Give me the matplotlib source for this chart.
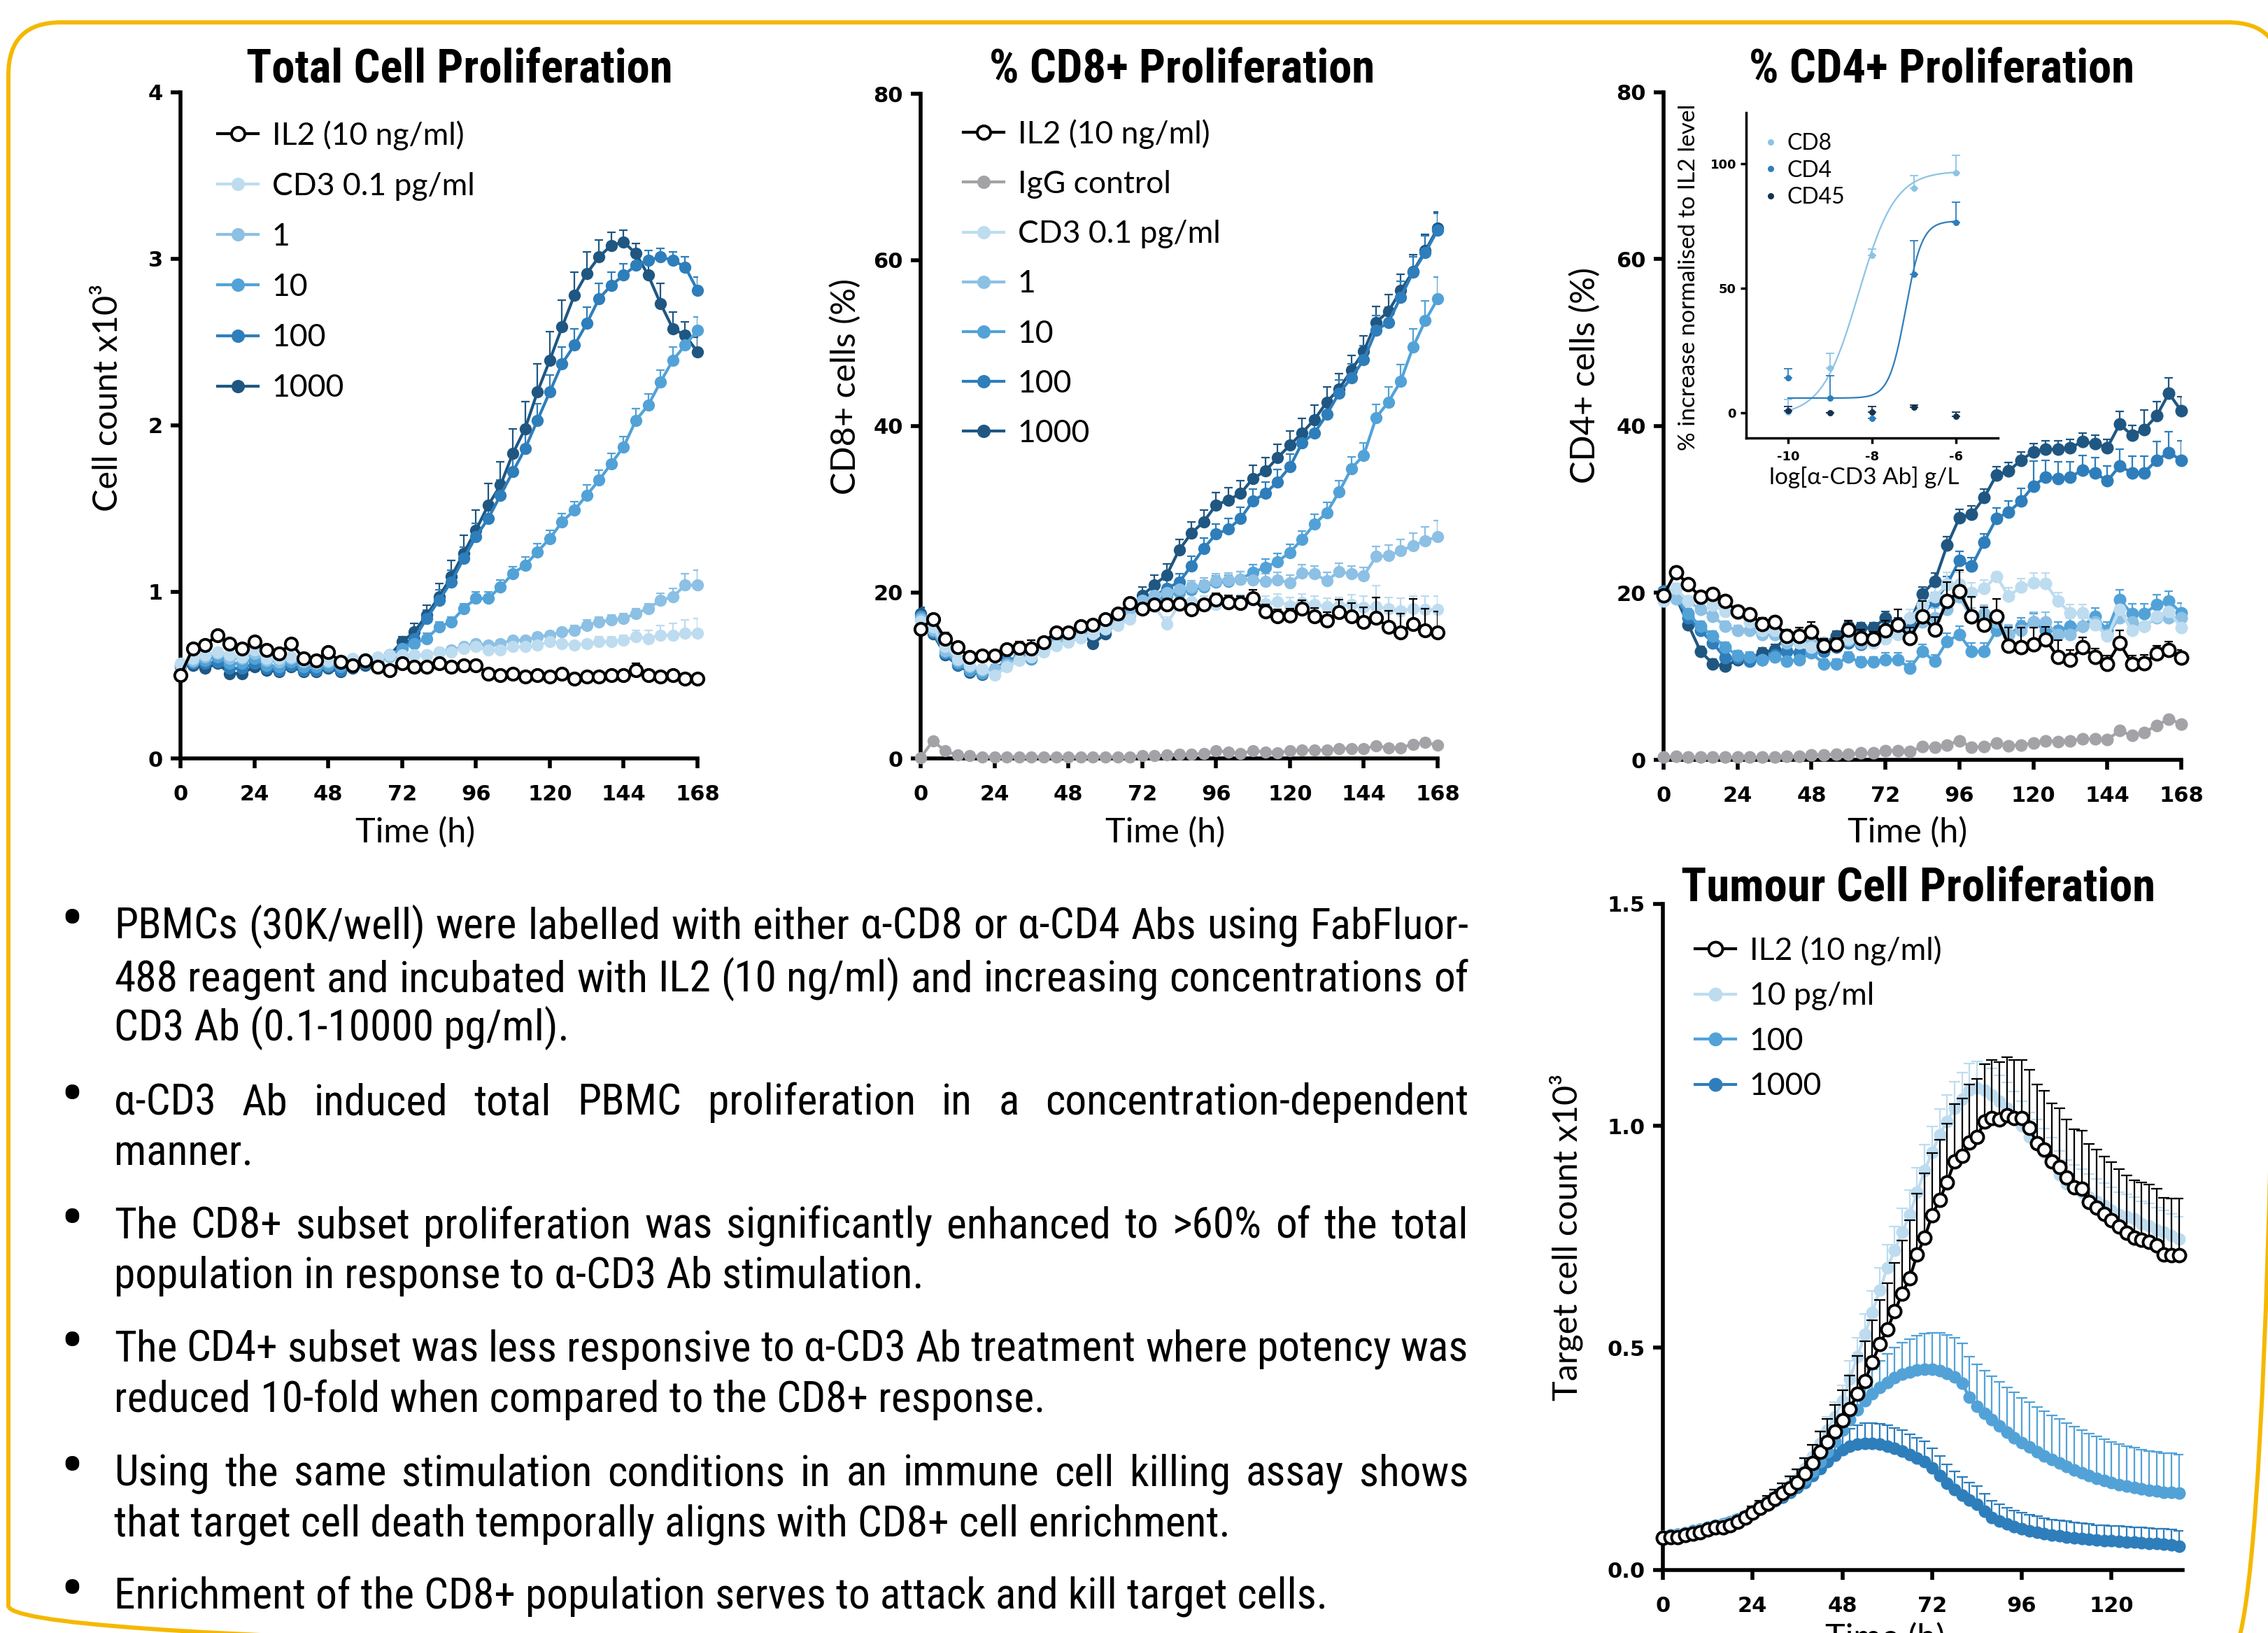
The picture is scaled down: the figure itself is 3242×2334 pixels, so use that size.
import numpy as np
import matplotlib
matplotlib.use("Agg")
import matplotlib.pyplot as plt
from matplotlib import font_manager
from matplotlib.lines import Line2D
from matplotlib.patches import FancyBboxPatch

# ---------------- data ----------------
TIME = list(range(0, 169, 4))          # 0..168 h, every 4 h
TIME_T = list(range(0, 139, 2))        # tumour assay, 0..138 h, every 2 h

# Total cell proliferation (cell count x10^3)
TOT_IL2 = [0.50, 0.66, 0.68, 0.74, 0.69, 0.66, 0.70, 0.65, 0.63, 0.69, 0.60, 0.59, 0.64, 0.58, 0.56,
           0.59, 0.55, 0.53, 0.57, 0.55, 0.55, 0.57, 0.55, 0.56, 0.56, 0.51, 0.50, 0.51, 0.49, 0.50,
           0.49, 0.51, 0.48, 0.49, 0.49, 0.50, 0.50, 0.53, 0.50, 0.49, 0.50, 0.48, 0.48]
TOT_01 = [0.57, 0.60, 0.62, 0.64, 0.62, 0.61, 0.65, 0.60, 0.60, 0.61, 0.59, 0.58, 0.59, 0.59, 0.60,
          0.60, 0.61, 0.62, 0.62, 0.62, 0.62, 0.64, 0.64, 0.66, 0.67, 0.65, 0.65, 0.67, 0.67, 0.68,
          0.70, 0.69, 0.68, 0.69, 0.70, 0.70, 0.71, 0.73, 0.72, 0.74, 0.74, 0.75, 0.75]
TOT_1 = [0.56, 0.59, 0.61, 0.63, 0.60, 0.60, 0.63, 0.59, 0.58, 0.60, 0.58, 0.57, 0.58, 0.58, 0.59,
         0.59, 0.60, 0.61, 0.61, 0.62, 0.62, 0.64, 0.65, 0.67, 0.69, 0.68, 0.69, 0.71, 0.71, 0.73,
         0.74, 0.76, 0.77, 0.80, 0.82, 0.83, 0.84, 0.87, 0.90, 0.95, 0.97, 1.04, 1.04]
TOT_10 = [0.56, 0.58, 0.59, 0.61, 0.57, 0.57, 0.60, 0.56, 0.55, 0.58, 0.55, 0.55, 0.56, 0.55, 0.57,
          0.58, 0.59, 0.62, 0.66, 0.69, 0.72, 0.79, 0.82, 0.90, 0.96, 0.96, 1.03, 1.11, 1.16, 1.24,
          1.32, 1.42, 1.49, 1.58, 1.67, 1.77, 1.87, 2.03, 2.12, 2.26, 2.39, 2.48, 2.57]
TOT_100 = [0.56, 0.57, 0.57, 0.58, 0.54, 0.54, 0.57, 0.54, 0.53, 0.56, 0.53, 0.53, 0.55, 0.53, 0.55,
           0.57, 0.59, 0.62, 0.66, 0.72, 0.84, 0.95, 1.06, 1.20, 1.33, 1.44, 1.58, 1.72, 1.86, 2.03,
           2.20, 2.37, 2.48, 2.61, 2.76, 2.84, 2.90, 2.96, 2.99, 3.01, 2.99, 2.95, 2.81]
TOT_1000 = [0.55, 0.56, 0.54, 0.57, 0.51, 0.51, 0.55, 0.53, 0.52, 0.55, 0.52, 0.52, 0.54, 0.52, 0.54,
            0.56, 0.58, 0.62, 0.70, 0.76, 0.86, 0.97, 1.09, 1.23, 1.37, 1.52, 1.64, 1.83, 1.98, 2.20,
            2.39, 2.59, 2.78, 2.91, 3.01, 3.08, 3.10, 3.03, 2.90, 2.73, 2.58, 2.54, 2.44]
TOT_IL2_ERR = [0.01, 0.02, 0.02, 0.02, 0.02, 0.02, 0.02, 0.02, 0.02, 0.02, 0.02, 0.02, 0.02, 0.02, 0.02,
               0.02, 0.02, 0.02, 0.02, 0.02, 0.02, 0.02, 0.02, 0.02, 0.02, 0.02, 0.02, 0.02, 0.02, 0.02,
               0.02, 0.02, 0.02, 0.02, 0.02, 0.02, 0.03, 0.04, 0.03, 0.02, 0.02, 0.02, 0.02]
TOT_01_ERR = [0.02, 0.02, 0.02, 0.02, 0.02, 0.02, 0.02, 0.02, 0.02, 0.02, 0.02, 0.02, 0.02, 0.02, 0.02,
              0.02, 0.02, 0.02, 0.02, 0.02, 0.02, 0.02, 0.02, 0.02, 0.02, 0.02, 0.02, 0.02, 0.02, 0.02,
              0.02, 0.02, 0.02, 0.02, 0.03, 0.03, 0.03, 0.04, 0.05, 0.06, 0.07, 0.08, 0.09]
TOT_1_ERR = [0.02, 0.02, 0.02, 0.02, 0.02, 0.02, 0.02, 0.02, 0.02, 0.02, 0.02, 0.02, 0.02, 0.02, 0.02,
             0.02, 0.02, 0.02, 0.02, 0.02, 0.02, 0.02, 0.02, 0.02, 0.02, 0.02, 0.02, 0.02, 0.02, 0.02,
             0.02, 0.02, 0.03, 0.03, 0.03, 0.03, 0.03, 0.03, 0.03, 0.04, 0.05, 0.07, 0.09]
TOT_10_ERR = [0.02, 0.02, 0.02, 0.02, 0.02, 0.02, 0.02, 0.02, 0.02, 0.02, 0.02, 0.02, 0.02, 0.02, 0.02,
              0.02, 0.02, 0.02, 0.02, 0.03, 0.03, 0.03, 0.03, 0.03, 0.04, 0.04, 0.04, 0.04, 0.05, 0.05,
              0.05, 0.05, 0.05, 0.06, 0.06, 0.06, 0.06, 0.07, 0.07, 0.07, 0.08, 0.08, 0.08]
TOT_100_ERR = [0.02, 0.02, 0.02, 0.02, 0.02, 0.02, 0.02, 0.02, 0.02, 0.02, 0.02, 0.02, 0.02, 0.02, 0.02,
               0.02, 0.02, 0.02, 0.03, 0.04, 0.05, 0.06, 0.07, 0.07, 0.08, 0.08, 0.09, 0.09, 0.10, 0.10,
               0.10, 0.10, 0.10, 0.10, 0.09, 0.08, 0.07, 0.07, 0.06, 0.05, 0.05, 0.06, 0.08]
TOT_1000_ERR = [0.02, 0.02, 0.02, 0.02, 0.02, 0.02, 0.02, 0.02, 0.02, 0.02, 0.02, 0.02, 0.02, 0.02, 0.02,
                0.02, 0.02, 0.02, 0.03, 0.05, 0.06, 0.08, 0.10, 0.11, 0.12, 0.13, 0.14, 0.15, 0.16, 0.17,
                0.17, 0.16, 0.14, 0.13, 0.10, 0.08, 0.07, 0.06, 0.10, 0.12, 0.10, 0.08, 0.09]

# % CD8+ cells
CD8_IL2 = [15.6, 16.8, 14.4, 13.4, 12.2, 12.4, 12.4, 13.1, 13.3, 13.2, 14.0, 15.2, 15.2, 15.9, 16.1,
           16.8, 17.4, 18.7, 18.0, 18.5, 18.5, 18.6, 17.9, 18.5, 19.1, 18.8, 18.7, 19.3, 17.7, 17.1,
           17.2, 18.0, 17.1, 16.6, 17.6, 17.1, 16.4, 16.9, 15.8, 15.2, 16.2, 15.4, 15.2]
CD8_IGG = [0.1, 2.1, 0.9, 0.4, 0.3, 0.2, 0.2, 0.2, 0.2, 0.2, 0.2, 0.2, 0.2, 0.2, 0.2,
           0.2, 0.2, 0.2, 0.3, 0.3, 0.4, 0.5, 0.5, 0.6, 0.9, 0.8, 0.6, 0.9, 0.8, 0.7,
           0.9, 1.0, 1.0, 1.0, 1.2, 1.2, 1.2, 1.5, 1.3, 1.3, 1.7, 1.9, 1.6]
CD8_01 = [16.5, 15.8, 13.5, 12.0, 11.2, 10.8, 10.0, 11.0, 11.8, 12.2, 12.8, 13.6, 14.0, 14.5, 15.0,
          15.6, 16.0, 16.8, 18.0, 18.3, 16.2, 18.5, 18.9, 18.7, 18.5, 18.6, 18.8, 19.0, 18.6, 18.9,
          18.4, 18.8, 18.5, 18.3, 18.4, 18.5, 18.2, 18.3, 18.0, 17.8, 18.0, 17.9, 17.9]
CD8_1 = [16.8, 15.5, 13.0, 11.8, 11.0, 10.6, 10.8, 11.3, 12.0, 12.3, 13.0, 13.8, 14.3, 14.8, 15.3,
         15.8, 16.4, 17.2, 19.0, 19.6, 20.0, 20.4, 20.6, 20.9, 21.4, 21.5, 21.6, 21.5, 21.3, 21.5,
         21.1, 22.3, 22.2, 21.4, 22.5, 22.2, 22.0, 24.3, 24.4, 25.0, 25.6, 26.2, 26.7]
CD8_10 = [17.0, 15.3, 12.8, 11.5, 10.6, 10.3, 10.6, 11.5, 12.2, 12.0, 13.2, 14.0, 14.5, 15.5, 16.0,
          15.8, 16.6, 17.4, 18.5, 19.0, 19.5, 20.0, 20.3, 20.6, 21.2, 21.3, 21.6, 22.4, 23.0, 23.7,
          24.8, 26.4, 28.2, 29.6, 32.1, 34.9, 36.5, 41.0, 42.9, 45.4, 49.5, 52.7, 55.3]
CD8_100 = [17.2, 15.2, 12.6, 11.3, 10.5, 10.2, 10.8, 11.7, 12.3, 12.1, 13.4, 14.2, 14.6, 15.7, 16.2,
           15.5, 16.8, 17.5, 19.0, 19.5, 20.5, 21.2, 23.2, 25.3, 27.0, 27.6, 28.9, 31.0, 31.9, 33.3,
           35.1, 38.0, 39.2, 41.4, 44.0, 45.8, 48.0, 51.5, 52.5, 55.5, 58.5, 60.9, 63.6]
CD8_1000 = [17.4, 15.0, 12.5, 11.2, 10.4, 10.1, 10.6, 11.2, 12.0, 12.0, 13.3, 14.0, 14.2, 15.2, 13.8,
            15.0, 16.5, 17.5, 19.6, 20.9, 22.1, 25.1, 27.1, 28.5, 30.5, 31.1, 31.9, 33.7, 34.6, 36.2,
            37.7, 39.2, 40.8, 42.9, 44.5, 46.7, 49.0, 52.5, 53.8, 56.3, 58.6, 61.1, 63.8]
CD8_IL2_ERR = [0.5, 0.5, 0.8, 0.5, 0.5, 0.5, 0.5, 0.6, 0.8, 1.0, 0.5, 0.5, 0.5, 0.5, 0.5,
               0.5, 0.5, 0.6, 0.6, 0.6, 0.6, 0.6, 0.6, 0.6, 0.8, 0.8, 0.8, 1.0, 0.8, 0.8,
               0.8, 1.0, 1.0, 1.0, 1.5, 1.6, 1.8, 2.5, 2.0, 2.2, 3.0, 2.6, 2.5]
CD8_IGG_ERR = [0.1, 0.3, 0.2, 0.1, 0.1, 0.1, 0.1, 0.1, 0.1, 0.1, 0.1, 0.1, 0.1, 0.1, 0.1,
               0.1, 0.1, 0.1, 0.1, 0.1, 0.1, 0.1, 0.1, 0.1, 0.2, 0.2, 0.2, 0.2, 0.2, 0.2,
               0.2, 0.2, 0.2, 0.2, 0.2, 0.2, 0.2, 0.2, 0.2, 0.2, 0.2, 0.2, 0.2]
CD8_01_ERR = [0.8, 0.6, 0.6, 0.5, 0.5, 0.5, 0.5, 0.5, 0.5, 0.5, 0.5, 0.5, 0.5, 0.5, 0.5,
              0.5, 0.5, 0.6, 0.6, 0.6, 0.8, 0.8, 0.8, 0.8, 0.8, 0.8, 0.9, 0.9, 0.9, 0.9,
              1.0, 1.0, 1.0, 1.0, 1.0, 1.2, 1.3, 2.5, 1.4, 1.5, 1.5, 1.6, 1.6]
CD8_1_ERR = [0.8, 0.6, 0.6, 0.5, 0.5, 0.5, 0.5, 0.5, 0.5, 0.5, 0.5, 0.5, 0.5, 0.5, 0.5,
             0.5, 0.5, 0.6, 0.6, 0.6, 0.8, 0.8, 0.8, 0.8, 0.8, 0.8, 0.9, 0.9, 0.9, 0.9,
             1.0, 1.0, 1.0, 1.0, 1.0, 1.0, 1.0, 1.2, 1.3, 1.4, 1.5, 1.7, 1.9]
CD8_10_ERR = [0.8, 0.6, 0.6, 0.5, 0.5, 0.5, 0.5, 0.5, 0.5, 0.5, 0.5, 0.5, 0.5, 0.5, 0.5,
              0.5, 0.5, 0.6, 0.6, 0.6, 0.8, 0.8, 0.8, 0.8, 0.8, 0.8, 0.9, 0.9, 1.0, 1.0,
              1.0, 1.0, 1.2, 1.2, 1.3, 1.4, 1.5, 1.6, 1.8, 2.0, 2.2, 2.4, 2.6]
CD8_100_ERR = [0.8, 0.6, 0.6, 0.5, 0.5, 0.5, 0.5, 0.5, 0.5, 0.5, 0.5, 0.5, 0.5, 0.5, 0.5,
               0.5, 0.5, 0.6, 0.8, 0.9, 1.0, 1.0, 1.1, 1.2, 1.2, 1.3, 1.3, 1.4, 1.4, 1.5,
               1.5, 1.5, 1.6, 1.6, 1.6, 1.7, 1.7, 1.8, 1.8, 1.9, 1.9, 2.0, 2.0]
CD8_1000_ERR = [0.8, 0.6, 0.6, 0.5, 0.5, 0.5, 0.5, 0.5, 0.5, 0.5, 0.5, 0.5, 0.5, 0.5, 0.5,
                0.5, 0.5, 0.6, 1.0, 1.2, 1.3, 1.3, 1.4, 1.4, 1.5, 1.5, 1.5, 1.6, 1.6, 1.6,
                1.7, 1.7, 1.7, 1.8, 1.8, 1.8, 1.9, 1.9, 2.0, 2.0, 2.0, 2.0, 2.0]

# % CD4+ cells
CD4_IL2 = [19.7, 22.5, 21.0, 19.5, 19.9, 19.0, 17.8, 17.4, 16.3, 16.5, 14.8, 14.8, 15.3, 13.7, 13.8,
           15.6, 14.6, 14.5, 15.5, 16.2, 14.6, 17.2, 15.6, 19.0, 20.2, 17.2, 16.2, 17.2, 13.7, 13.5,
           13.8, 14.4, 12.3, 12.0, 13.5, 12.3, 11.5, 14.0, 11.5, 11.6, 12.7, 13.2, 12.2]
CD4_IGG = [0.3, 0.4, 0.3, 0.3, 0.3, 0.3, 0.3, 0.3, 0.3, 0.3, 0.4, 0.4, 0.6, 0.6, 0.7,
           0.7, 0.8, 0.8, 1.1, 1.1, 1.0, 1.6, 1.5, 1.8, 2.3, 1.5, 1.6, 2.0, 1.7, 1.8,
           2.0, 2.3, 2.2, 2.3, 2.5, 2.5, 2.4, 3.5, 2.9, 3.3, 4.1, 4.9, 4.3]
CD4_01 = [19.0, 20.5, 19.0, 19.5, 18.5, 17.8, 17.5, 16.5, 15.5, 15.5, 14.5, 14.0, 13.5, 13.5, 14.0,
          14.5, 14.5, 14.0, 14.5, 15.0, 17.0, 18.5, 19.5, 21.0, 21.0, 20.0, 20.5, 22.0, 19.6, 20.7,
          21.2, 21.1, 19.0, 17.6, 17.6, 16.2, 14.8, 18.0, 15.5, 16.0, 17.2, 17.8, 15.8]
CD4_1 = [19.5, 19.3, 19.0, 18.0, 17.2, 16.0, 15.5, 15.5, 15.0, 15.0, 14.0, 14.2, 14.5, 14.0, 14.0,
         14.3, 14.0, 14.5, 15.0, 15.5, 15.2, 16.5, 17.0, 18.0, 19.5, 17.0, 17.5, 16.5, 15.0, 15.5,
         16.5, 16.5, 15.0, 15.0, 16.0, 16.5, 15.0, 17.0, 16.5, 16.0, 17.0, 17.0, 17.0]
CD4_10 = [20.0, 19.5, 17.5, 16.0, 14.8, 13.5, 12.5, 12.3, 12.0, 12.3, 11.8, 12.0, 12.8, 11.5, 11.5,
          12.3, 11.7, 11.7, 12.0, 12.0, 11.0, 13.0, 11.8, 14.2, 15.0, 13.0, 13.0, 15.5, 15.0, 16.0,
          16.5, 15.5, 15.5, 16.0, 16.0, 17.2, 15.5, 19.2, 17.5, 17.5, 18.6, 19.0, 17.6]
CD4_100 = [20.2, 19.4, 17.0, 15.5, 14.0, 12.2, 12.2, 11.8, 12.0, 12.6, 13.0, 12.8, 13.5, 13.0, 13.5,
           14.0, 13.8, 14.2, 15.0, 15.5, 16.0, 17.5, 19.0, 21.0, 23.9, 23.2, 26.1, 28.9, 29.7, 31.0,
           32.8, 33.9, 33.7, 33.9, 34.7, 34.4, 33.4, 35.2, 34.4, 34.4, 35.9, 36.8, 35.9]
CD4_1000 = [20.2, 19.5, 16.2, 13.0, 11.5, 11.2, 12.0, 12.2, 12.8, 13.2, 14.8, 14.2, 14.8, 14.0, 14.8,
            16.0, 15.8, 15.8, 17.0, 16.2, 16.5, 19.9, 21.4, 25.7, 29.0, 29.4, 31.4, 34.1, 34.6, 35.9,
            36.9, 37.2, 37.2, 37.4, 38.1, 37.9, 37.4, 40.2, 38.9, 39.6, 41.2, 43.9, 41.8]
CD4_IL2_ERR = [0.6, 0.6, 0.6, 0.6, 0.6, 0.6, 0.6, 0.6, 0.7, 0.7, 0.8, 1.0, 1.2, 0.8, 0.8,
               1.1, 1.0, 0.8, 1.2, 1.8, 1.2, 1.8, 1.5, 2.3, 2.5, 2.3, 2.1, 2.1, 2.1, 2.3,
               2.0, 1.5, 2.0, 1.2, 1.2, 1.0, 1.0, 1.5, 1.0, 1.0, 1.0, 1.0, 1.0]
CD4_IGG_ERR = [0.2, 0.2, 0.2, 0.2, 0.2, 0.2, 0.2, 0.2, 0.2, 0.2, 0.2, 0.2, 0.2, 0.2, 0.2,
               0.2, 0.2, 0.2, 0.2, 0.2, 0.2, 0.2, 0.2, 0.2, 0.2, 0.2, 0.2, 0.2, 0.2, 0.2,
               0.2, 0.2, 0.2, 0.2, 0.2, 0.2, 0.2, 0.3, 0.3, 0.3, 0.3, 0.3, 0.3]
CD4_01_ERR = [0.6, 0.6, 0.6, 0.6, 0.6, 0.6, 0.6, 0.6, 0.6, 0.6, 0.6, 0.6, 0.6, 0.6, 0.6,
              0.6, 0.6, 0.6, 0.8, 0.8, 1.0, 1.0, 1.2, 1.5, 1.5, 1.2, 1.0, 0.5, 1.0, 1.0,
              1.2, 1.3, 1.0, 1.0, 1.0, 1.0, 1.0, 1.2, 1.0, 1.0, 1.0, 1.0, 1.0]
CD4_1_ERR = [0.6, 0.6, 0.6, 0.6, 0.6, 0.6, 0.6, 0.6, 0.6, 0.6, 0.6, 0.6, 0.6, 0.6, 0.6,
             0.6, 0.6, 0.6, 0.8, 0.8, 1.0, 1.0, 1.2, 1.2, 1.3, 1.2, 1.0, 1.0, 1.2, 1.2,
             1.2, 1.2, 1.0, 1.0, 1.0, 1.0, 1.0, 1.0, 1.0, 1.0, 1.0, 1.0, 1.0]
CD4_10_ERR = [0.6, 0.6, 0.6, 0.6, 0.6, 0.6, 0.6, 0.6, 0.6, 0.6, 0.6, 0.6, 0.6, 0.6, 0.6,
              0.6, 0.6, 0.6, 0.8, 0.8, 0.8, 0.8, 0.8, 1.0, 1.0, 1.0, 1.0, 1.0, 1.0, 1.0,
              1.0, 1.0, 1.0, 1.0, 1.0, 1.0, 1.0, 1.2, 1.2, 1.2, 1.2, 1.2, 1.2]
CD4_100_ERR = [0.6, 0.6, 0.6, 0.6, 0.6, 0.6, 0.6, 0.6, 0.6, 0.6, 0.6, 0.6, 0.6, 0.6, 0.6,
               0.6, 0.6, 0.6, 0.8, 0.8, 0.8, 0.8, 1.0, 1.0, 1.1, 1.0, 1.0, 1.3, 1.3, 1.5,
               3.0, 2.0, 2.0, 1.8, 1.8, 1.8, 1.8, 2.0, 2.0, 2.0, 2.2, 2.5, 2.3]
CD4_1000_ERR = [0.6, 0.6, 0.6, 0.6, 0.6, 0.6, 0.6, 0.6, 0.6, 0.6, 0.6, 0.6, 0.6, 0.6, 0.6,
                0.6, 0.6, 0.6, 0.8, 0.8, 0.8, 0.8, 1.0, 1.0, 1.0, 1.0, 1.0, 1.0, 1.0, 1.0,
                1.0, 1.0, 1.0, 1.0, 1.0, 1.0, 1.0, 1.5, 1.2, 2.3, 1.7, 1.9, 1.7]

# Inset: dose response, % increase normalised to IL2 level
LOG_CONC = [-10, -9, -8, -7, -6]
INSET_CD8 = [0.5, 18.1, 63.1, 90.0, 96.2]
INSET_CD8_ERR = [5.0, 5.8, 2.7, 5.2, 7.0]
INSET_CD4 = [14.1, 6.0, -2.2, 55.7, 76.3]
INSET_CD4_ERR = [3.8, 9.1, 0.0, 13.4, 8.2]
INSET_CD45 = [1.0, 0.0, 0.3, 2.3, -1.4]
INSET_CD45_ERR = [1.6, 0.0, 2.3, 1.0, 1.7]
# four-parameter logistic fits: bottom, top, logEC50, hill
FIT_CD8 = (-1.0, 97.0, -8.32, 1.0)
FIT_CD4 = (6.0, 77.0, -7.2, 2.2)

# Tumour cell proliferation (target cell count x10^3)
TUM_IL2 = [0.072, 0.074, 0.074, 0.078, 0.081, 0.085, 0.091, 0.095, 0.095, 0.100,
           0.108, 0.117, 0.129, 0.140, 0.149, 0.160, 0.172, 0.184, 0.197, 0.217,
           0.241, 0.266, 0.288, 0.311, 0.336, 0.362, 0.397, 0.425, 0.467, 0.508,
           0.541, 0.582, 0.622, 0.657, 0.710, 0.748, 0.799, 0.833, 0.873, 0.919,
           0.932, 0.963, 0.975, 1.009, 1.018, 1.014, 1.024, 1.018, 1.018, 0.995,
           0.961, 0.947, 0.919, 0.907, 0.883, 0.861, 0.858, 0.828, 0.816, 0.801,
           0.788, 0.773, 0.759, 0.748, 0.744, 0.739, 0.730, 0.710, 0.708, 0.708]
TUM_10 = [0.075, 0.077, 0.078, 0.081, 0.085, 0.089, 0.094, 0.098, 0.100, 0.105,
          0.112, 0.121, 0.132, 0.143, 0.153, 0.165, 0.178, 0.190, 0.205, 0.228,
          0.255, 0.285, 0.315, 0.345, 0.380, 0.430, 0.480, 0.530, 0.580, 0.630,
          0.680, 0.720, 0.760, 0.800, 0.850, 0.900, 0.940, 0.980, 1.010, 1.040,
          1.060, 1.080, 1.085, 1.080, 1.070, 1.055, 1.040, 1.020, 1.000, 0.975,
          0.960, 0.940, 0.920, 0.890, 0.870, 0.860, 0.850, 0.840, 0.830, 0.820,
          0.810, 0.800, 0.795, 0.790, 0.780, 0.775, 0.765, 0.760, 0.752, 0.745]
TUM_100 = [0.075, 0.078, 0.080, 0.083, 0.087, 0.091, 0.096, 0.100, 0.103, 0.108,
           0.114, 0.121, 0.130, 0.139, 0.148, 0.158, 0.168, 0.179, 0.191, 0.205,
           0.222, 0.243, 0.265, 0.290, 0.315, 0.338, 0.360, 0.380, 0.396, 0.410,
           0.422, 0.432, 0.440, 0.446, 0.450, 0.452, 0.452, 0.449, 0.443, 0.434,
           0.420, 0.388, 0.368, 0.352, 0.338, 0.324, 0.310, 0.298, 0.286, 0.276,
           0.266, 0.257, 0.248, 0.240, 0.232, 0.225, 0.218, 0.212, 0.206, 0.201,
           0.196, 0.192, 0.188, 0.185, 0.182, 0.179, 0.177, 0.175, 0.174, 0.172]
TUM_1000 = [0.075, 0.078, 0.080, 0.083, 0.087, 0.091, 0.095, 0.099, 0.102, 0.107,
            0.113, 0.120, 0.128, 0.137, 0.146, 0.155, 0.164, 0.174, 0.185, 0.197,
            0.212, 0.228, 0.244, 0.258, 0.270, 0.278, 0.283, 0.285, 0.285, 0.283,
            0.279, 0.274, 0.268, 0.260, 0.252, 0.244, 0.230, 0.212, 0.195, 0.180,
            0.168, 0.157, 0.148, 0.132, 0.118, 0.110, 0.103, 0.097, 0.092, 0.088,
            0.085, 0.081, 0.078, 0.076, 0.074, 0.072, 0.070, 0.068, 0.067, 0.066,
            0.065, 0.064, 0.063, 0.062, 0.061, 0.060, 0.059, 0.058, 0.056, 0.053]
TUM_IL2_ERR = [0.004, 0.004, 0.004, 0.005, 0.005, 0.005, 0.006, 0.006, 0.007, 0.008,
               0.010, 0.012, 0.014, 0.016, 0.018, 0.020, 0.023, 0.026, 0.030, 0.034,
               0.040, 0.046, 0.052, 0.060, 0.068, 0.076, 0.084, 0.090, 0.095, 0.100,
               0.104, 0.110, 0.120, 0.130, 0.138, 0.145, 0.140, 0.135, 0.132, 0.130,
               0.130, 0.130, 0.131, 0.130, 0.130, 0.130, 0.130, 0.131, 0.131, 0.131,
               0.132, 0.132, 0.132, 0.132, 0.132, 0.132, 0.131, 0.131, 0.131, 0.130,
               0.130, 0.130, 0.129, 0.129, 0.129, 0.128, 0.128, 0.128, 0.128, 0.128]
TUM_10_ERR = [0.004, 0.004, 0.004, 0.005, 0.005, 0.005, 0.006, 0.006, 0.007, 0.008,
              0.009, 0.010, 0.011, 0.012, 0.013, 0.014, 0.016, 0.018, 0.020, 0.022,
              0.025, 0.028, 0.030, 0.033, 0.036, 0.040, 0.043, 0.046, 0.048, 0.050,
              0.052, 0.053, 0.054, 0.055, 0.056, 0.057, 0.058, 0.058, 0.059, 0.060,
              0.060, 0.060, 0.060, 0.060, 0.060, 0.058, 0.058, 0.057, 0.056, 0.055,
              0.055, 0.054, 0.054, 0.053, 0.053, 0.052, 0.052, 0.052, 0.051, 0.051,
              0.051, 0.050, 0.050, 0.050, 0.050, 0.050, 0.050, 0.050, 0.050, 0.050]
TUM_100_ERR = [0.004, 0.004, 0.004, 0.005, 0.005, 0.005, 0.006, 0.006, 0.007, 0.008,
               0.009, 0.010, 0.011, 0.012, 0.013, 0.014, 0.015, 0.016, 0.018, 0.020,
               0.022, 0.025, 0.028, 0.032, 0.036, 0.040, 0.045, 0.050, 0.055, 0.060,
               0.064, 0.068, 0.071, 0.074, 0.077, 0.080, 0.082, 0.084, 0.086, 0.088,
               0.090, 0.092, 0.094, 0.096, 0.098, 0.100, 0.100, 0.101, 0.101, 0.101,
               0.101, 0.100, 0.100, 0.099, 0.098, 0.097, 0.096, 0.095, 0.094, 0.093,
               0.092, 0.091, 0.090, 0.090, 0.089, 0.089, 0.088, 0.088, 0.088, 0.088]
TUM_1000_ERR = [0.004, 0.004, 0.004, 0.005, 0.005, 0.005, 0.006, 0.006, 0.007, 0.008,
                0.009, 0.010, 0.011, 0.012, 0.013, 0.014, 0.015, 0.016, 0.018, 0.020,
                0.022, 0.025, 0.028, 0.032, 0.036, 0.040, 0.043, 0.045, 0.046, 0.046,
                0.046, 0.046, 0.046, 0.045, 0.045, 0.045, 0.044, 0.044, 0.043, 0.042,
                0.041, 0.040, 0.040, 0.039, 0.038, 0.038, 0.037, 0.037, 0.036, 0.036,
                0.036, 0.035, 0.035, 0.035, 0.035, 0.035, 0.035, 0.035, 0.034, 0.034,
                0.034, 0.034, 0.034, 0.034, 0.034, 0.034, 0.034, 0.034, 0.034, 0.034]

BULLETS = [
    ["PBMCs (30K/well) were labelled with either α-CD8 or α-CD4 Abs using FabFluor-",
     "488 reagent and incubated with IL2 (10 ng/ml) and increasing concentrations of",
     "CD3 Ab (0.1-10000 pg/ml)."],
    ["α-CD3 Ab induced total PBMC proliferation in a concentration-dependent",
     "manner."],
    ["The CD8+ subset proliferation was significantly enhanced to >60% of the total",
     "population in response to α-CD3 Ab stimulation."],
    ["The CD4+ subset was less responsive to α-CD3 Ab treatment where potency was",
     "reduced 10-fold when compared to the CD8+ response."],
    ["Using the same stimulation conditions in an immune cell killing assay shows",
     "that target cell death temporally aligns with CD8+ cell enrichment."],
    ["Enrichment of the CD8+ population serves to attack and kill target cells."],
]
LINE_Y = [[1325, 1400, 1470], [1576, 1648], [1753, 1824], [1929, 2001], [2107, 2179], [2283]]

# ---------------- style ----------------
C_IL2, C_IGG = "black", "#a3a3a7"
C_01, C_1, C_10, C_100, C_1000 = "#bddcf0", "#8cc0e4", "#52a2d8", "#2e7ebb", "#1f5782"
C_CD8, C_CD4, C_CD45 = "#8cc3e6", "#2e7ebb", "#15334f"
BORDER = "#f5b800"

_names = {f.name for f in font_manager.fontManager.ttflist}


def pick(*cands):
    for c in cands:
        if c in _names:
            return c
    return "DejaVu Sans"


NARROW = [pick("Liberation Sans Narrow", "Roboto Condensed", "DejaVu Sans"), "DejaVu Sans"]
HUMAN = [pick("Lato", "Open Sans", "DejaVu Sans"), "DejaVu Sans"]
TICKF = "DejaVu Sans"
plt.rcParams["font.family"] = HUMAN

W, H = 3242, 2334
fig = plt.figure(figsize=(W / 100, H / 100), dpi=100)
bg = fig.add_axes([0, 0, 1, 1])
bg.set_xlim(0, W)
bg.set_ylim(H, 0)
bg.axis("off")

bg.add_patch(FancyBboxPatch((12, 32), 3260 - 12, 2370 - 32,
                            boxstyle="round,pad=0,rounding_size=75",
                            fill=False, ec=BORDER, lw=4.3, clip_on=False))


def add_ax(x0, x1, ytop, ybot):
    ax = fig.add_axes([x0 / W, 1 - ybot / H, (x1 - x0) / W, (ybot - ytop) / H])
    ax.patch.set_alpha(0)
    return ax


def style(ax, xlim, ylim, xticks, yticks, ylabels=None, xlabels=None,
          lw=4.0, size=22, tl=10, xpad=17, ypad=8):
    ax.set_xlim(*xlim)
    ax.set_ylim(*ylim)
    for s in ("top", "right"):
        ax.spines[s].set_visible(False)
    for s in ("left", "bottom"):
        ax.spines[s].set_linewidth(lw)
    ax.set_xticks(xticks, labels=xlabels or [str(t) for t in xticks])
    ax.set_yticks(yticks, labels=ylabels or [str(t) for t in yticks])
    ax.tick_params(axis="both", width=lw, length=tl, direction="out")
    ax.tick_params(axis="x", pad=xpad)
    ax.tick_params(axis="y", pad=ypad)
    for lab in ax.get_xticklabels() + ax.get_yticklabels():
        lab.set_fontfamily(TICKF)
        lab.set_fontweight("bold")
        lab.set_fontsize(size)


def series(ax, x, y, err, color, face=None, ms=12.5, lw=3.0, cap=4, elw=1.6, z=3):
    ax.errorbar(x, y, yerr=[np.zeros(len(err)), err], fmt="none", ecolor=color,
                elinewidth=elw, capsize=cap, capthick=elw, zorder=z)
    line, = ax.plot(x, y, "-o", color=color, mfc=face if face else color, mec=color,
                    ms=ms, lw=lw, mew=2.8 if face else 0, zorder=z + 0.1, clip_on=False)
    return line


def legend(ax, handles, labels, left, top, size=32, spacing=0.7):
    ax.legend(handles, labels, loc="upper left", bbox_to_anchor=(left / W, 1 - top / H),
              bbox_transform=fig.transFigure, frameon=False, prop={"family": HUMAN, "size": size},
              labelspacing=spacing, handlelength=1.3, handletextpad=0.45,
              borderpad=0, borderaxespad=0, markerscale=1.1)


def label(x, y, s, size=35, rot=0, va="baseline", **kw):
    bg.text(x, y, s, fontsize=size, rotation=rot, ha="center", va=va, family=HUMAN, **kw)


def title(x, y, s):
    bg.text(x, y, s, fontsize=48, fontweight="bold", ha="center", va="baseline", family=NARROW)


XT = [0, 24, 48, 72, 96, 120, 144, 168]

# ---- panel 1: total cell proliferation ----
ax1 = add_ax(258, 997, 131.5, 1084)
h1000 = series(ax1, TIME, TOT_1000, TOT_1000_ERR, C_1000)
h100 = series(ax1, TIME, TOT_100, TOT_100_ERR, C_100)
h10 = series(ax1, TIME, TOT_10, TOT_10_ERR, C_10)
h1 = series(ax1, TIME, TOT_1, TOT_1_ERR, C_1)
h01 = series(ax1, TIME, TOT_01, TOT_01_ERR, C_01)
hil2 = series(ax1, TIME, TOT_IL2, TOT_IL2_ERR, C_IL2, face="white", z=5)
style(ax1, (0, 168), (0, 4), XT, [0, 1, 2, 3, 4])
legend(ax1, [hil2, h01, h1, h10, h100, h1000],
       ["IL2 (10 ng/ml)", "CD3 0.1 pg/ml", "1", "10", "100", "1000"], 311, 172)
title(657, 118, "Total Cell Proliferation")
label(154, 568, "Cell count x10³", rot=90, va="center")
label(594, 1204, "Time (h)")

# ---- panel 2: % CD8+ ----
ax2 = add_ax(1316, 2055, 134, 1084)
g = series(ax2, TIME, CD8_IGG, CD8_IGG_ERR, C_IGG)
h1000 = series(ax2, TIME, CD8_1000, CD8_1000_ERR, C_1000)
h100 = series(ax2, TIME, CD8_100, CD8_100_ERR, C_100)
h10 = series(ax2, TIME, CD8_10, CD8_10_ERR, C_10)
h1 = series(ax2, TIME, CD8_1, CD8_1_ERR, C_1)
h01 = series(ax2, TIME, CD8_01, CD8_01_ERR, C_01)
hil2 = series(ax2, TIME, CD8_IL2, CD8_IL2_ERR, C_IL2, face="white", z=5)
style(ax2, (0, 168), (0, 80), XT, [0, 20, 40, 60, 80])
legend(ax2, [hil2, g, h01, h1, h10, h100, h1000],
       ["IL2 (10 ng/ml)", "IgG control", "CD3 0.1 pg/ml", "1", "10", "100", "1000"],
       1377, 170, spacing=0.68)
title(1690, 118, "% CD8+ Proliferation")
label(1208, 552, "CD8+ cells (%)", rot=90, va="center")
label(1666, 1204, "Time (h)")

# ---- panel 3: % CD4+ ----
ax3 = add_ax(2378, 3118, 131.5, 1086)
series(ax3, TIME, CD4_IGG, CD4_IGG_ERR, C_IGG, ms=13)
series(ax3, TIME, CD4_1000, CD4_1000_ERR, C_1000, ms=13)
series(ax3, TIME, CD4_100, CD4_100_ERR, C_100, ms=13)
series(ax3, TIME, CD4_10, CD4_10_ERR, C_10, ms=13)
series(ax3, TIME, CD4_1, CD4_1_ERR, C_1, ms=13)
series(ax3, TIME, CD4_01, CD4_01_ERR, C_01, ms=13)
series(ax3, TIME, CD4_IL2, CD4_IL2_ERR, C_IL2, face="white", ms=13, z=5)
style(ax3, (0, 168), (0, 80), XT, [0, 20, 40, 60, 80])
title(2775, 118, "% CD4+ Proliferation")
label(2265, 536, "CD4+ cells (%)", rot=90, va="center")
label(2727, 1204, "Time (h)")

# ---- inset: dose response ----
axi = add_ax(2496, 2856, 160.7, 626)
xs = np.linspace(LOG_CONC[0], LOG_CONC[-1], 200)
hand = []
for vals, err, col, fit in ((INSET_CD8, INSET_CD8_ERR, C_CD8, FIT_CD8),
                            (INSET_CD4, INSET_CD4_ERR, C_CD4, FIT_CD4),
                            (INSET_CD45, INSET_CD45_ERR, C_CD45, None)):
    if fit is not None:
        b, t, c, hh = fit
        axi.plot(xs, b + (t - b) / (1 + 10 ** ((c - xs) * hh)), color=col, lw=1.6, zorder=2)
    axi.errorbar(LOG_CONC, vals, yerr=[np.zeros(len(err)), err], fmt="none", ecolor=col,
                 elinewidth=1.3, capsize=4.5, capthick=1.3, zorder=3)
    axi.plot(LOG_CONC, vals, "o", color=col, ms=6.5, mew=0, zorder=4)
    hand.append(Line2D([], [], ls="none", marker="o", color=col, ms=6.5, mew=0))
style(axi, (-11, -5), (-10, 120.5), [-10, -8, -6], [0, 50, 100],
      xlabels=["-10", "-8", "-6"], lw=2.5, size=13, tl=6, xpad=7, ypad=4)
axi.legend(hand, ["CD8", "CD4", "CD45"], loc="upper left",
           bbox_to_anchor=(2518 / W, 1 - 190 / H), bbox_transform=fig.transFigure,
           frameon=False, prop={"family": HUMAN, "size": 23}, labelspacing=0.27,
           handlelength=0.8, handletextpad=0.35, borderpad=0, borderaxespad=0)
label(2414, 396, "% increase normalised to IL2 level", size=24, rot=90, va="center")
label(2665, 692, "log[α-CD3 Ab] g/L", size=24)

# ---- panel 4: tumour cell proliferation ----
ax4 = add_ax(2377, 3120, 1291.8, 2243.6)
t1000 = series(ax4, TIME_T, TUM_1000, TUM_1000_ERR, C_100, ms=13, cap=6)
t100 = series(ax4, TIME_T, TUM_100, TUM_100_ERR, C_10, ms=13, cap=6)
t10 = series(ax4, TIME_T, TUM_10, TUM_10_ERR, C_01, ms=13, cap=6)
til2 = series(ax4, TIME_T, TUM_IL2, TUM_IL2_ERR, C_IL2, face="white", ms=13, cap=6, z=5)
style(ax4, (0, 139), (0, 1.5), [0, 24, 48, 72, 96, 120], [0, 0.5, 1.0, 1.5],
      ylabels=["0.0", "0.5", "1.0", "1.5"])
legend(ax4, [til2, t10, t100, t1000], ["IL2 (10 ng/ml)", "10 pg/ml", "100", "1000"],
       2423, 1337, spacing=0.53)
title(2742, 1287, "Tumour Cell Proliferation")
label(2239, 1768, "Target cell count x10³", rot=90, va="center")
label(2695, 2356, "Time (h)")

# ---- bullet text, justified ----
renderer = fig.canvas.get_renderer()


def text_width(s, size):
    t = bg.text(0, 0, s, fontsize=size, family=NARROW)
    w = t.get_window_extent(renderer).width
    t.remove()
    return w


X0, X1 = 163, 2099
body = 40 * (1898 - X0) / text_width(BULLETS[-1][0], 40)
for para, ys in zip(BULLETS, LINE_Y):
    bg.text(103, ys[0] - 6, "•", fontsize=body * 1.6, ha="center", va="center", family=NARROW)
    for i, (line, y) in enumerate(zip(para, ys)):
        base = y + 17
        if i == len(para) - 1:
            bg.text(X0, base, line, fontsize=body, ha="left", va="baseline", family=NARROW)
            continue
        words = line.split(" ")
        widths = [text_width(w, body) for w in words]
        gap = (X1 - X0 - sum(widths)) / (len(words) - 1)
        x = X0
        for w, wd in zip(words, widths):
            bg.text(x, base, w, fontsize=body, ha="left", va="baseline", family=NARROW)
            x += wd + gap

fig.savefig("out.png", dpi=100)
